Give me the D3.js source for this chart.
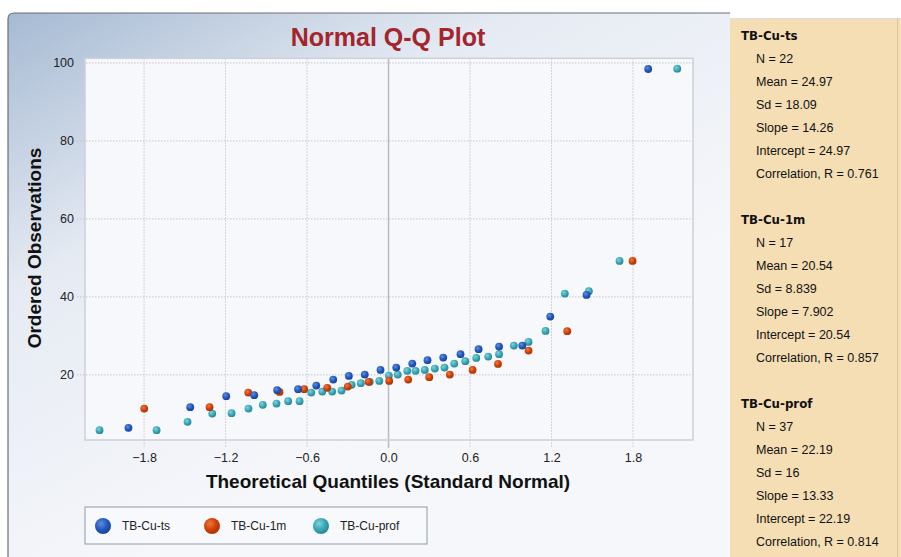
<!DOCTYPE html>
<html><head><meta charset="utf-8">
<script src="https://cdn.jsdelivr.net/npm/d3@7"></script>
<style>html,body{margin:0;padding:0;background:#fff;}svg{display:block;}</style>
</head><body>
<svg id="c" width="901" height="557"></svg>
<script>
// ---- data ----
const seriesNames = ["TB-Cu-ts", "TB-Cu-1m", "TB-Cu-prof"];
const tsX = [-1.915,-1.460,-1.195,-0.989,-0.820,-0.666,-0.532,-0.407,-0.292,-0.175,-0.059,0.057,0.175,0.287,0.403,0.530,0.663,0.814,0.985,1.191,1.458,1.912];
const tsY = [6.41,11.72,14.54,14.79,16.08,16.33,17.26,18.79,19.74,20.08,21.28,21.87,22.90,23.77,24.44,25.31,26.59,27.26,27.51,34.95,40.51,98.46];
const m1X = [-1.799,-1.318,-1.033,-0.803,-0.621,-0.451,-0.300,-0.147,0.005,0.145,0.300,0.451,0.619,0.806,1.031,1.316,1.797];
const m1Y = [11.36,11.72,15.46,15.64,16.33,16.67,17.00,18.21,18.46,18.79,19.41,20.08,21.28,22.82,26.23,31.21,49.23];
const prX = [-2.128,-1.708,-1.480,-1.298,-1.156,-1.031,-0.926,-0.825,-0.739,-0.655,-0.569,-0.488,-0.415,-0.346,-0.272,-0.204,-0.138,-0.068,0.002,0.068,0.138,0.199,0.267,0.341,0.412,0.484,0.565,0.646,0.734,0.814,0.923,1.031,1.156,1.298,1.475,1.701,2.126];
const prY = [5.82,5.82,7.95,10.08,10.18,11.36,12.31,12.64,13.26,13.26,15.46,15.72,15.72,15.97,17.44,17.87,18.21,18.46,19.82,20.08,21.03,21.03,21.28,21.62,21.87,22.90,23.51,24.36,24.69,25.31,27.51,28.46,31.28,40.85,41.46,49.23,98.54];
const xTicks = [-1.8,-1.2,-0.6,0.0,0.6,1.2,1.8];
const yTicks = [20,40,60,80,100];
const statLabels = ["N","Mean","Sd","Slope","Intercept","Correlation, R"];
const statsTs = ["22","24.97","18.09","14.26","24.97","0.761"];
const stats1m = ["17","20.54","8.839","7.902","20.54","0.857"];
const statsPr = ["37","22.19","16","13.33","22.19","0.814"];

const svg = d3.select("#c");
const defs = svg.append("defs");
const bg = defs.append("linearGradient").attr("id","bg").attr("x1","0").attr("y1","0").attr("x2","0.55").attr("y2","0.75");
bg.append("stop").attr("offset","0").attr("stop-color","#a6bad3");
bg.append("stop").attr("offset","0.45").attr("stop-color","#e6ebf3");
bg.append("stop").attr("offset","1").attr("stop-color","#f6f7fb");

const cols = [
  {hi:"#5d8fe0", mid:"#2358bb", lo:"#16419a"},
  {hi:"#ee7a3e", mid:"#cf4109", lo:"#a83000"},
  {hi:"#7fd3dc", mid:"#3aa7b6", lo:"#277f8e"}
];
cols.forEach((c,i)=>{
  const g = defs.append("radialGradient").attr("id","g"+i).attr("cx","0.38").attr("cy","0.35").attr("r","0.7");
  g.append("stop").attr("offset","0").attr("stop-color",c.hi);
  g.append("stop").attr("offset","0.55").attr("stop-color",c.mid);
  g.append("stop").attr("offset","1").attr("stop-color",c.lo);
});

// main panel
svg.append("path").attr("d","M8,557 L8,19 Q8,13 14,13 L730,13 L730,557 Z").attr("fill","url(#bg)");
svg.append("path").attr("d","M8,557 L8,19 Q8,13 14,13 L730,13").attr("fill","none").attr("stroke","#6b6f75").attr("stroke-width",1.2);

const L=85,R=693,T=58.3,B=440;
const x = d3.scaleLinear().domain([-2.235,2.242]).range([L,R]);
const y = d3.scaleLinear().domain([3.3,101.2]).range([B,T]);

svg.append("rect").attr("x",L).attr("y",T).attr("width",R-L).attr("height",B-T).attr("fill","#f7f8fc");

// grid
const grid = svg.append("g");
grid.selectAll(".gx").data(xTicks.filter(d=>d!==0)).join("line")
  .attr("x1",d=>x(d)).attr("x2",d=>x(d)).attr("y1",T).attr("y2",B+8)
  .attr("stroke","#c4c6cc").attr("stroke-width",1).attr("stroke-dasharray","1.5,1.5");
grid.selectAll(".gy").data(yTicks).join("line")
  .attr("x1",L-8).attr("x2",R).attr("y1",d=>y(d)).attr("y2",d=>y(d))
  .attr("stroke","#c4c6cc").attr("stroke-width",1).attr("stroke-dasharray","1.5,1.5");
grid.append("line").attr("x1",x(0)).attr("x2",x(0)).attr("y1",T).attr("y2",B+8).attr("stroke","#b8bbc2").attr("stroke-width",1.5);
svg.append("rect").attr("x",L).attr("y",T).attr("width",R-L).attr("height",B-T).attr("fill","none").attr("stroke","#cdd0d6").attr("stroke-width",1.5);

// axes via d3
const xAxis = d3.axisBottom(x).tickValues(xTicks).tickFormat(d3.format(".1f")).tickSize(0).tickPadding(0);
const gx = svg.append("g").attr("transform",`translate(0,${B+13})`).call(xAxis);
gx.select(".domain").remove();
gx.selectAll("text").attr("font-family","Liberation Sans, Arial").attr("font-size",12.5).attr("fill","#222").attr("dy","0.71em");
const yAxis = d3.axisLeft(y).tickValues(yTicks).tickSize(0).tickPadding(0);
const gy = svg.append("g").attr("transform",`translate(${L-11},0)`).call(yAxis);
gy.select(".domain").remove();
gy.selectAll("text").attr("font-family","Liberation Sans, Arial").attr("font-size",12.5).attr("fill","#222");

// titles
svg.append("text").attr("x",388).attr("y",46).attr("text-anchor","middle").attr("font-family","Liberation Sans, Arial").attr("font-weight","bold").attr("font-size",25).attr("fill","#a4252b").text("Normal Q-Q Plot");
svg.append("text").attr("x",388).attr("y",488).attr("text-anchor","middle").attr("font-family","Liberation Sans, Arial").attr("font-weight","bold").attr("font-size",19).attr("fill","#111").text("Theoretical Quantiles (Standard Normal)");
svg.append("text").attr("transform","translate(41,248) rotate(-90)").attr("text-anchor","middle").attr("font-family","Liberation Sans, Arial").attr("font-weight","bold").attr("font-size",19).attr("fill","#111").text("Ordered Observations");

// points
const series = [
  {xs:prX, ys:prY, c:2},
  {xs:m1X, ys:m1Y, c:1},
  {xs:tsX, ys:tsY, c:0}
];
series.forEach(s=>{
  svg.append("g").selectAll("circle").data(s.xs.map((v,i)=>[v,s.ys[i]])).join("circle")
    .attr("cx",d=>x(d[0])).attr("cy",d=>y(d[1])).attr("r",3.9).attr("fill",`url(#g${s.c})`);
});

// legend
svg.append("rect").attr("x",85).attr("y",507).attr("width",342).attr("height",37).attr("fill","#f8f9fc").attr("stroke","#8e9aa6").attr("stroke-width",1);
const legX = [103,212,321];
seriesNames.forEach((n,i)=>{
  svg.append("circle").attr("cx",legX[i]).attr("cy",526).attr("r",8).attr("fill",`url(#g${i})`);
  svg.append("text").attr("x",legX[i]+19).attr("y",530).attr("font-family","Liberation Sans, Arial").attr("font-size",12).attr("fill","#222").text(n);
});

// stats panel
svg.append("rect").attr("x",730).attr("y",18).attr("width",171).attr("height",539).attr("fill","#f5deb4");
svg.append("line").attr("x1",730).attr("x2",901).attr("y1",18.5).attr("y2",18.5).attr("stroke","#d8dde6");
svg.append("line").attr("x1",897.5).attr("x2",897.5).attr("y1",18).attr("y2",557).attr("stroke","#d9c39a");
const groups = [statsTs, stats1m, statsPr];
const gTop = [35,219,403];
groups.forEach((vals,gi)=>{
  svg.append("text").attr("x",741).attr("y",gTop[gi]+4.5).attr("font-family","DejaVu Sans, Verdana").attr("font-weight","bold").attr("font-size",11.8).attr("fill","#111").text(seriesNames[gi]);
  vals.forEach((v,k)=>{
    svg.append("text").attr("x",756).attr("y",gTop[gi]+23*(k+1)+4.5).attr("font-family","Liberation Sans, Arial").attr("font-size",12.5).attr("fill","#111").text(statLabels[k]+" = "+v);
  });
});
</script>
</body></html>
